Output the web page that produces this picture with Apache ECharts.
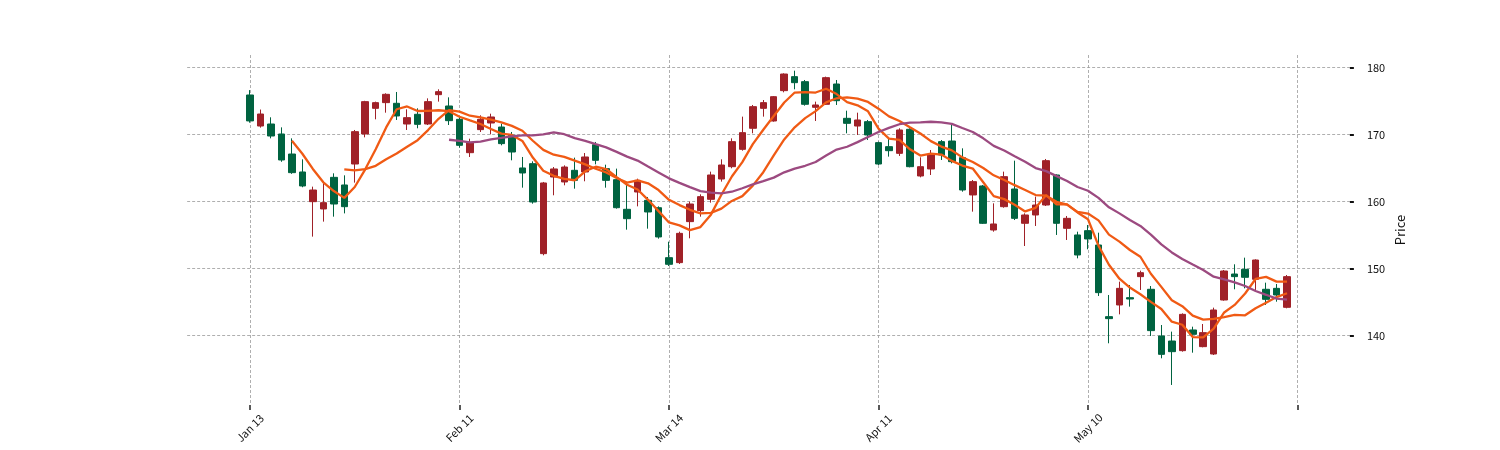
<!DOCTYPE html>
<html>
<head>
<meta charset="utf-8">
<script src="https://cdn.jsdelivr.net/npm/echarts@6/dist/echarts.min.js"></script>
<style>
html,body{margin:0;padding:0;background:#fff;}
#chart{width:1500px;height:450px;}
</style>
</head>
<body>
<div id="chart"></div>
<script>
// ---- data (trading days, 2022) ----
const dates = [
"2022-01-13","2022-01-14","2022-01-18","2022-01-19","2022-01-20","2022-01-21","2022-01-24","2022-01-25","2022-01-26","2022-01-27",
"2022-01-28","2022-01-31","2022-02-01","2022-02-02","2022-02-03","2022-02-04","2022-02-07","2022-02-08","2022-02-09","2022-02-10",
"2022-02-11","2022-02-14","2022-02-15","2022-02-16","2022-02-17","2022-02-18","2022-02-22","2022-02-23","2022-02-24","2022-02-25",
"2022-02-28","2022-03-01","2022-03-02","2022-03-03","2022-03-04","2022-03-07","2022-03-08","2022-03-09","2022-03-10","2022-03-11",
"2022-03-14","2022-03-15","2022-03-16","2022-03-17","2022-03-18","2022-03-21","2022-03-22","2022-03-23","2022-03-24","2022-03-25",
"2022-03-28","2022-03-29","2022-03-30","2022-03-31","2022-04-01","2022-04-04","2022-04-05","2022-04-06","2022-04-07","2022-04-08",
"2022-04-11","2022-04-12","2022-04-13","2022-04-14","2022-04-18","2022-04-19","2022-04-20","2022-04-21","2022-04-22","2022-04-25",
"2022-04-26","2022-04-27","2022-04-28","2022-04-29","2022-05-02","2022-05-03","2022-05-04","2022-05-05","2022-05-06","2022-05-09",
"2022-05-10","2022-05-11","2022-05-12","2022-05-13","2022-05-16","2022-05-17","2022-05-18","2022-05-19","2022-05-20","2022-05-23",
"2022-05-24","2022-05-25","2022-05-26","2022-05-27","2022-05-31","2022-06-01","2022-06-02","2022-06-03","2022-06-06","2022-06-07"
];
const opens = [
175.87,171.24,171.54,170.05,167.06,164.38,159.95,158.86,163.58,162.44,
165.57,170.05,173.88,174.73,174.63,171.54,172.99,171.54,175.92,174.23,
172.24,167.26,170.70,171.69,171.09,169.85,164.98,165.62,152.19,163.63,
162.89,164.63,164.38,168.46,164.88,163.23,158.81,161.39,160.15,159.05,
151.59,150.85,156.97,158.61,160.30,163.33,165.17,167.76,170.90,173.88,
171.99,176.52,178.61,177.86,174.03,174.48,177.51,172.39,171.24,171.89,
168.76,168.16,167.16,170.75,163.78,164.83,168.91,169.00,166.52,160.95,
162.29,155.72,159.20,161.84,156.72,157.96,159.45,163.93,155.97,154.98,
155.62,153.48,142.79,144.53,145.62,148.76,146.87,139.90,139.15,137.71,
140.80,138.31,137.21,145.27,149.15,149.85,148.36,146.87,147.01,144.18
];
const closes = [
172.00,173.03,169.75,166.17,164.28,162.29,161.69,159.80,159.60,159.20,
170.40,174.88,174.73,175.97,172.74,172.49,171.49,174.88,176.37,172.04,
168.36,168.71,172.24,172.59,168.61,167.36,164.23,159.90,162.74,164.83,
165.12,163.13,166.62,166.12,163.13,159.05,157.41,163.13,158.41,154.68,
150.60,155.22,159.60,160.70,163.93,165.42,168.91,170.25,174.13,174.73,
175.62,179.00,177.71,174.48,174.38,178.46,175.02,171.64,172.14,169.90,
165.57,167.56,170.65,165.17,165.17,167.01,166.92,165.92,161.69,162.94,
156.72,156.62,163.68,157.46,157.96,159.45,166.07,156.72,157.46,151.99,
154.38,146.37,142.49,147.01,145.42,149.35,140.70,137.16,137.56,143.13,
140.15,140.40,143.78,149.60,148.76,148.66,151.24,145.37,146.02,148.76
];
const lows = [
171.74,171.00,169.40,165.90,164.10,162.10,154.73,156.97,157.71,158.20,
162.79,169.55,172.24,173.23,172.14,170.65,170.90,171.39,174.88,171.39,
168.01,166.62,170.35,170.00,168.36,166.12,162.04,159.65,151.94,160.90,
162.39,161.89,162.99,165.52,162.04,158.91,155.77,159.25,155.92,154.43,
150.35,150.65,154.48,157.71,159.80,162.94,164.93,167.56,170.15,172.64,
171.89,176.27,176.72,174.28,171.99,174.38,174.38,170.15,169.90,169.15,
165.42,166.67,166.77,165.07,163.58,163.93,166.17,165.67,161.44,158.46,
156.62,155.47,159.05,157.21,153.33,156.32,159.30,154.98,154.23,151.49,
152.84,145.87,138.81,143.13,144.28,146.77,139.90,136.57,132.59,137.56,
137.41,138.21,137.06,145.17,146.87,147.01,146.77,144.53,145.02,144.03
];
const highs = [
176.60,173.70,172.54,171.04,169.40,166.27,162.19,162.69,164.18,163.88,
170.65,175.00,174.88,176.12,176.32,173.73,173.88,175.37,176.72,175.52,
172.59,169.35,172.84,173.08,171.59,170.35,166.62,165.97,162.89,165.12,
165.37,166.52,167.21,168.86,165.47,164.88,162.64,163.38,160.65,159.25,
153.98,155.47,159.95,161.04,164.43,166.27,169.40,172.64,174.38,175.12,
175.72,179.10,179.50,178.11,174.88,178.61,178.11,173.53,173.23,172.14,
168.91,169.40,170.90,170.90,166.57,167.66,169.15,171.64,167.91,163.18,
162.44,159.70,164.43,166.07,158.21,160.70,166.32,164.03,157.81,155.47,
156.47,155.32,146.02,148.01,147.51,149.65,147.36,141.54,140.55,143.28,
141.29,141.69,144.13,149.75,150.60,151.59,151.34,147.86,147.66,149.00
];
const maPeriods = [5, 10, 20];
const yTicks = [140, 150, 160, 170, 180];
const tickEvery = 20;

// ---- build ----
const PAD_L = 6, PAD_R = 6;
const MONTHS = ["Jan","Feb","Mar","Apr","May","Jun","Jul","Aug","Sep","Oct","Nov","Dec"];
const cats = [];
for (let i = 0; i < PAD_L; i++) cats.push("padL" + i);
dates.forEach(d => cats.push(d));
for (let i = 0; i < PAD_R; i++) cats.push("padR" + i);

const candle = [];
for (let i = 0; i < PAD_L; i++) candle.push('-');
for (let i = 0; i < dates.length; i++) candle.push([opens[i], closes[i], lows[i], highs[i]]);
for (let i = 0; i < PAD_R; i++) candle.push('-');

function movingAvg(n) {
  const out = [];
  for (let i = 0; i < PAD_L; i++) out.push('-');
  for (let i = 0; i < closes.length; i++) {
    if (i < n - 1) { out.push('-'); continue; }
    let s = 0;
    for (let k = i - n + 1; k <= i; k++) s += closes[k];
    out.push(+(s / n).toFixed(3));
  }
  for (let i = 0; i < PAD_R; i++) out.push('-');
  return out;
}
const maColors = ['#f05a14', '#f05a14', '#9c4a80'];

const isTick = (idx) => idx >= PAD_L && (idx - PAD_L) % tickEvery === 0;
const fmtDate = (v) => {
  if (!/^\d{4}-\d{2}-\d{2}$/.test(v)) return '';
  const m = +v.slice(5, 7), d = +v.slice(8, 10);
  return MONTHS[m - 1] + ' ' + d;
};

const step = 10.475;
const leftPx = 250 - PAD_L * step;
const widthPx = (cats.length - 1) * step;

const chart = echarts.init(document.getElementById('chart'), null, {renderer: 'canvas'});
const FONT = '"Noto Sans CJK SC", "DejaVu Sans", sans-serif';
const option = {
  animation: false,
  backgroundColor: '#ffffff',
  grid: { left: leftPx, width: widthPx, top: 55, bottom: 45, containLabel: false },
  xAxis: {
    type: 'category',
    data: cats,
    boundaryGap: false,
    axisLine: { show: false },
    axisTick: { show: true, interval: isTick, length: 5, lineStyle: { color: '#222', width: 1.5 } },
    axisLabel: {
      interval: isTick, formatter: fmtDate, rotate: 45, align: 'center', verticalAlign: 'middle',
      margin: 23, fontSize: 11, color: '#111', fontFamily: FONT
    },
    splitLine: { show: true, interval: isTick, lineStyle: { color: '#9a9a9a', type: [3, 2], width: 0.8 } }
  },
  yAxis: {
    type: 'value',
    position: 'right',
    min: 129.6,
    max: 181.84,
    scale: true,
    name: 'Price',
    nameLocation: 'middle',
    nameRotate: 90,
    nameGap: 44,
    nameMoveOverlap: false,
    nameTextStyle: { fontSize: 13, color: '#111', fontFamily: FONT },
    axisLine: { show: false },
    axisTick: { show: true, customValues: yTicks, length: 4, lineStyle: { color: '#111', width: 2 } },
    axisLabel: { customValues: yTicks, margin: 17, fontSize: 11, color: '#111', fontFamily: FONT },
    splitLine: { show: true, lineStyle: { color: '#9a9a9a', type: [3, 2], width: 0.8 } }
  },
  series: [
    {
      type: 'candlestick',
      data: candle,
      barWidth: 7,
      itemStyle: {
        color: '#a02128', color0: '#006340',
        borderColor: '#a02128', borderColor0: '#006340', borderWidth: 1
      },
      z: 2
    }
  ].concat(maPeriods.map((n, k) => ({
    type: 'line',
    data: movingAvg(n),
    showSymbol: false,
    symbol: 'none',
    smooth: false,
    lineStyle: { color: maColors[k], width: 2.3 },
    z: 3
  })))
};
chart.setOption(option);
</script>
</body>
</html>
